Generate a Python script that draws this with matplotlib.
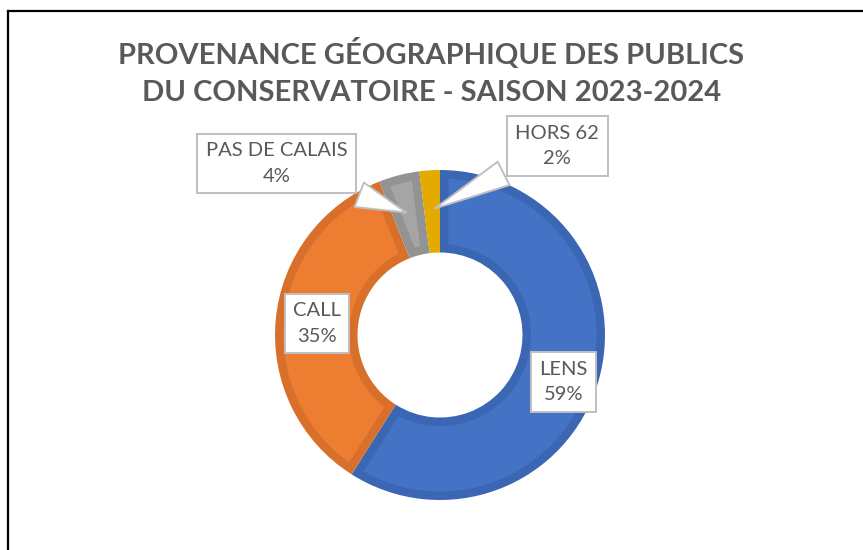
import numpy as np
import matplotlib.pyplot as plt
from matplotlib.lines import Line2D
from matplotlib.patches import Polygon

# data
categories = ["LENS", "CALL", "PAS DE CALAIS", "HORS 62"]
shares = [59, 35, 4, 2]
fill_colors = ["#4472C4", "#ED7D31", "#A5A5A5", "#E9B000"]
edge_colors = ["#3B66B3", "#D8702B", "#939393", "#E3AA00"]

title = "PROVENANCE GÉOGRAPHIQUE DES PUBLICS\nDU CONSERVATOIRE - SAISON 2023-2024"

W, H = 863, 550
fig = plt.figure(figsize=(W / 100, H / 100), dpi=100)
fig.patch.set_facecolor("white")

# frame only on the left and top, like the cropped screenshot
bx, by = 8 / W, 1 - 11 / H
fig.add_artist(Line2D([bx, bx], [0, by], transform=fig.transFigure, color="black", lw=1.6))
fig.add_artist(Line2D([bx, 1], [by, by], transform=fig.transFigure, color="black", lw=1.6))

fig.text(0.5, 1 - 72 / H, title, ha="center", va="center", fontsize=21,
         fontweight="bold", color="#595959", family="Lato", linespacing=1.5)

# donut centre (440, 335) px, outer radius 165 px
cx, cy, R = 440, 335, 165
half = 200
ax = fig.add_axes([(cx - half) / W, (H - cy - half) / H, 2 * half / W, 2 * half / H])

# the darker colour is the full wedge, a lighter inset polygon goes on top
wedges, _ = ax.pie(shares, colors=edge_colors, startangle=90, counterclock=False,
                   radius=1.0, wedgeprops=dict(width=0.5, linewidth=0))

b = 8.5 / R  # border thickness in data units
for w, fc in zip(wedges, fill_colors):
    r_out, r_in = w.r - b, w.r - w.width + b
    t1, t2 = np.deg2rad(w.theta1), np.deg2rad(w.theta2)
    a_out, a_in = np.arcsin(b / r_out), np.arcsin(b / r_in)
    if t1 + a_in >= t2 - a_in:
        continue
    ang_o = np.linspace(t1 + a_out, t2 - a_out, 200)
    ang_i = np.linspace(t2 - a_in, t1 + a_in, 200)
    pts = np.vstack([np.c_[r_out * np.cos(ang_o), r_out * np.sin(ang_o)],
                     np.c_[r_in * np.cos(ang_i), r_in * np.sin(ang_i)]])
    ax.add_patch(Polygon(pts, closed=True, fc=fc, ec="none"))

ax.set_xlim(-half / R, half / R)
ax.set_ylim(-half / R, half / R)
ax.axis("off")

# label box centres (data units), outside labels get a callout
label_pos = [(0.75, -0.285), (-0.745, 0.07), (-0.99, 1.04), (0.71, 1.145)]
callout = [False, False, True, True]

box = dict(boxstyle="square,pad=0.42", fc="white", ec="#BFBFBF", lw=1.4)
font = dict(fontsize=14.5, color="#595959", family="Lato", linespacing=1.6,
            ha="center", va="center")
cum = np.cumsum([0] + shares)
for i, name in enumerate(categories):
    txt = f"{name}\n{shares[i]}%"
    if callout[i]:
        mid = np.deg2rad(90 - (cum[i] + cum[i + 1]) / 2 / 100 * 360)
        tip = (0.76 * np.cos(mid), 0.76 * np.sin(mid))
        ax.annotate(txt, xy=tip, xytext=label_pos[i], bbox=box,
                    arrowprops=dict(arrowstyle="wedge,tail_width=1.3,shrink_factor=0.5",
                                    fc="white", ec="#BFBFBF", lw=1.4),
                    **font)
    else:
        ax.text(*label_pos[i], txt, bbox=box, **font)

fig.savefig("out.png", dpi=100)
